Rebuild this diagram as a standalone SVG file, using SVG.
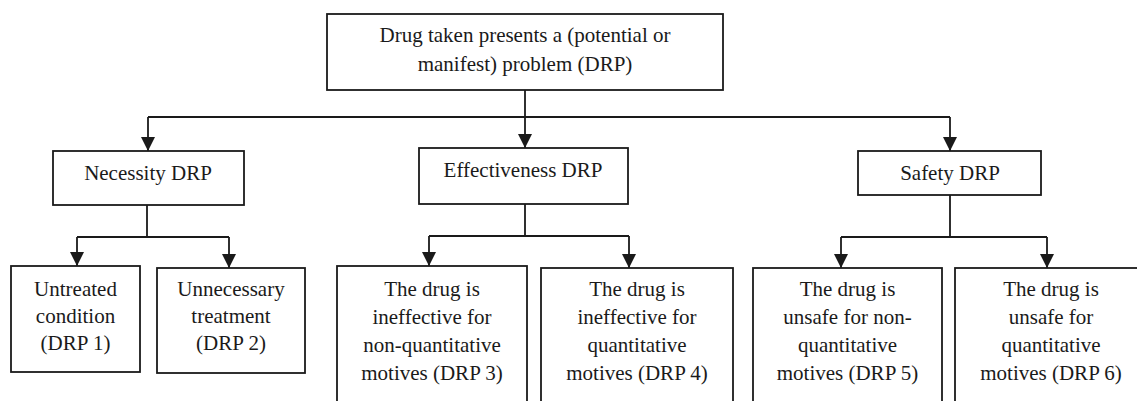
<svg xmlns="http://www.w3.org/2000/svg" width="1137" height="401" viewBox="0 0 1137 401">
<style>
.box{fill:#fff;stroke:#1a1a1a;stroke-width:1.8}
.t{font-family:'Liberation Serif','Tinos','Times New Roman','DejaVu Serif','Noto Serif',serif;font-size:21px;fill:#1a1a1a;text-anchor:middle}
.c{fill:none;stroke:#1a1a1a;stroke-width:1.8}
</style>
<defs>
<marker id="arr" markerUnits="userSpaceOnUse" markerWidth="16" markerHeight="16" viewBox="0 0 16 16" refX="14" refY="8" orient="auto">
<path d="M0,1 L14,8 L0,15 Z" fill="#1a1a1a"/>
</marker>
</defs>
<rect width="1137" height="401" fill="#fff"/>
<g id="connectors">
<path class="c" d="M525,90 V148" marker-end="url(#arr)"/>
<path class="c" d="M148,117 H950"/>
<path class="c" d="M148,117 V151" marker-end="url(#arr)"/>
<path class="c" d="M950,117 V151" marker-end="url(#arr)"/>
<path class="c" d="M147,205 V237 M77,237 H229"/>
<path class="c" d="M77,237 V266" marker-end="url(#arr)"/>
<path class="c" d="M229,237 V268" marker-end="url(#arr)"/>
<path class="c" d="M525,204 V236 M429,236 H629"/>
<path class="c" d="M429,236 V266" marker-end="url(#arr)"/>
<path class="c" d="M629,236 V268" marker-end="url(#arr)"/>
<path class="c" d="M950,195 V237 M841,237 H1047"/>
<path class="c" d="M841,237 V268" marker-end="url(#arr)"/>
<path class="c" d="M1047,237 V268" marker-end="url(#arr)"/>
</g>
<g id="root">
<rect class="box" x="327" y="14" width="396" height="76"/>
<text class="t" x="525" y="42" font-family="Liberation Serif, serif">Drug taken presents a (potential or</text>
<text class="t" x="525" y="71" font-family="Liberation Serif, serif">manifest) problem (DRP)</text>
</g>
<g id="necessity">
<rect class="box" x="53" y="151" width="191" height="54"/>
<text class="t" x="148" y="180">Necessity DRP</text>
</g>
<g id="effectiveness">
<rect class="box" x="419" y="148" width="209" height="56"/>
<text class="t" x="523" y="177">Effectiveness DRP</text>
</g>
<g id="safety">
<rect class="box" x="858" y="151" width="183" height="44"/>
<text class="t" x="950" y="180">Safety DRP</text>
</g>
<g id="drp1">
<rect class="box" x="11" y="266" width="129" height="106"/>
<text class="t" x="75.5" y="296">Untreated</text>
<text class="t" x="75.5" y="323">condition</text>
<text class="t" x="75.5" y="350">(DRP 1)</text>
</g>
<g id="drp2">
<rect class="box" x="157" y="268" width="148" height="105"/>
<text class="t" x="231" y="296">Unnecessary</text>
<text class="t" x="231" y="323">treatment</text>
<text class="t" x="231" y="350">(DRP 2)</text>
</g>
<g id="drp3">
<rect class="box" x="337" y="266" width="190" height="160"/>
<text class="t" x="432" y="296">The drug is</text>
<text class="t" x="432" y="324">ineffective for</text>
<text class="t" x="432" y="352">non-quantitative</text>
<text class="t" x="432" y="380">motives (DRP 3)</text>
</g>
<g id="drp4">
<rect class="box" x="541" y="268" width="192" height="160"/>
<text class="t" x="637" y="296">The drug is</text>
<text class="t" x="637" y="324">ineffective for</text>
<text class="t" x="637" y="352">quantitative</text>
<text class="t" x="637" y="380">motives (DRP 4)</text>
</g>
<g id="drp5">
<rect class="box" x="753" y="268" width="189" height="160"/>
<text class="t" x="847.5" y="296">The drug is</text>
<text class="t" x="847.5" y="324">unsafe for non-</text>
<text class="t" x="847.5" y="352">quantitative</text>
<text class="t" x="847.5" y="380">motives (DRP 5)</text>
</g>
<g id="drp6">
<rect class="box" x="955" y="268" width="192" height="160"/>
<text class="t" x="1051" y="296">The drug is</text>
<text class="t" x="1051" y="324">unsafe for</text>
<text class="t" x="1051" y="352">quantitative</text>
<text class="t" x="1051" y="380">motives (DRP 6)</text>
</g>
</svg>
